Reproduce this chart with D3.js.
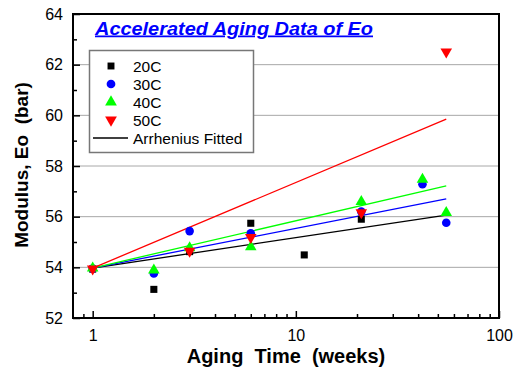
<!DOCTYPE html>
<html>
<head>
<meta charset="utf-8">
<script src="https://cdn.jsdelivr.net/npm/d3@7"></script>
<style>
body { margin: 0; background: #fff; }
text { font-family: "Liberation Sans", Arial, sans-serif; }
</style>
</head>
<body>
<svg id="graph"></svg>
<script>
// aging data
var series = ["20C", "30C", "40C", "50C"];
var colors = ["#000000", "#0000ff", "#00ff00", "#ff0000"];
var shapes = ["square", "circle", "triangleUp", "triangleDown"];

var time20 = [1, 2, 3, 6, 11, 21];
var mod20 = [53.93, 53.13, 54.62, 55.74, 54.49, 55.90];
var time30 = [1, 2, 3, 6, 21, 42, 55];
var mod30 = [53.95, 53.76, 55.43, 55.34, 56.20, 57.28, 55.76];
var time40 = [1, 2, 3, 6, 21, 42, 55];
var mod40 = [53.97, 53.89, 54.77, 54.81, 56.59, 57.47, 56.16];
var time50 = [1, 3, 6, 21, 55];
var mod50 = [53.94, 54.64, 55.18, 56.16, 62.51];

// Arrhenius fitted lines, value at start and end time
var fitTimes = [1, 55];
var fitStart = [53.97, 53.97, 53.97, 53.97];
var fitEnd = [56.06, 56.70, 57.22, 59.85];

var yTicks = [52, 54, 56, 58, 60, 62, 64];
var yMinor = [53, 55, 57, 59, 61, 63];
var xTicks = [1, 10, 100];
var xMinor = [0.9, 2, 3, 4, 5, 6, 7, 8, 9, 20, 30, 40, 50, 60, 70, 80, 90];

var allTimes = [time20, time30, time40, time50];
var allMods = [mod20, mod30, mod40, mod50];

var screen = {width: 527, height: 375};
var margins = {top: 14, bottom: 57, left: 73, right: 28};
var graph = {
    width: screen.width - margins.left - margins.right,
    height: screen.height - margins.top - margins.bottom
};

var svg = d3.select("#graph")
    .attr("width", screen.width)
    .attr("height", screen.height);

var xScale = d3.scaleLog()
    .domain([0.8, 100])
    .range([0, graph.width]);
var yScale = d3.scaleLinear()
    .domain([52, 64])
    .range([graph.height, 0]);

var g = svg.append("g")
    .classed("graph", true)
    .attr("transform", "translate(" + margins.left + "," + margins.top + ")");

// grid
g.selectAll("line.grid")
    .data(yTicks.slice(1, -1))
    .enter()
    .append("line")
    .attr("x1", 0)
    .attr("x2", graph.width)
    .attr("y1", function(d) { return yScale(d); })
    .attr("y2", function(d) { return yScale(d); })
    .attr("stroke", "#a8a8a8")
    .attr("stroke-width", 1);

// axes, ticks pointing inward
var drawAxes = function()
{
    var xAxis = d3.axisBottom(xScale).tickValues(xTicks).tickSize(-7)
        .tickFormat(d3.format("d")).tickPadding(12);
    var xAxisMinor = d3.axisBottom(xScale).tickValues(xMinor).tickSize(-4).tickFormat("");
    var yAxis = d3.axisLeft(yScale).tickValues(yTicks).tickSize(-7).tickPadding(10);
    var yAxisMinor = d3.axisLeft(yScale).tickValues(yMinor).tickSize(-4).tickFormat("");

    var bottom = g.append("g").attr("transform", "translate(0," + graph.height + ")");
    bottom.call(xAxis);
    bottom.append("g").call(xAxisMinor);
    var left = g.append("g");
    left.call(yAxis);
    left.append("g").call(yAxisMinor);

    g.selectAll(".domain").remove();
    g.selectAll(".tick line").attr("stroke", "#000").attr("stroke-width", 1.5);
    g.selectAll(".tick text")
        .attr("font-size", 16)
        .attr("font-family", "Liberation Sans, Arial, sans-serif")
        .attr("fill", "#000");

    g.append("rect")
        .attr("width", graph.width)
        .attr("height", graph.height)
        .attr("fill", "none")
        .attr("stroke", "#000")
        .attr("stroke-width", 2);
};
drawAxes();

// fitted lines
var fitLine = d3.line()
    .x(function(d) { return xScale(d[0]); })
    .y(function(d) { return yScale(d[1]); });

series.forEach(function(s, i) {
    g.append("path")
        .datum([[fitTimes[0], fitStart[i]], [fitTimes[1], fitEnd[i]]])
        .attr("d", fitLine)
        .attr("fill", "none")
        .attr("stroke", colors[i])
        .attr("stroke-width", 1.3);
});

var symbolFor = function(shape, size)
{
    if (shape == "square") return d3.symbol(d3.symbolSquare, size)();
    if (shape == "circle") return d3.symbol(d3.symbolCircle, size)();
    return d3.symbol(d3.symbolTriangle, size)();
};

var drawPoints = function(i)
{
    var pts = allTimes[i].map(function(t, k) { return {t: t, v: allMods[i][k]}; });
    g.append("g")
        .selectAll("path")
        .data(pts)
        .enter()
        .append("path")
        .attr("d", symbolFor(shapes[i], shapes[i] == "square" ? 50 : 58))
        .attr("transform", function(d) {
            var rot = shapes[i] == "triangleDown" ? " rotate(180)" : "";
            return "translate(" + xScale(d.t) + "," + yScale(d.v) + ")" + rot;
        })
        .attr("fill", colors[i]);
};
series.forEach(function(s, i) { drawPoints(i); });

// title
svg.append("text")
    .attr("x", 95)
    .attr("y", 34.5)
    .attr("font-size", 17.5)
    .attr("font-weight", "bold")
    .attr("font-style", "italic")
    .attr("text-decoration", "underline")
    .attr("textLength", 278)
    .attr("lengthAdjust", "spacingAndGlyphs")
    .attr("fill", "#0000ff")
    .text("Accelerated Aging Data of Eo");

// legend
var legend = svg.append("g");
legend.append("rect")
    .attr("x", 89.5)
    .attr("y", 50.5)
    .attr("width", 164)
    .attr("height", 102)
    .attr("fill", "#fff")
    .attr("stroke", "#777")
    .attr("stroke-width", 1.5);

var rowY = function(k) { return 66 + k * 18; };
series.forEach(function(s, i) {
    legend.append("path")
        .attr("d", symbolFor(shapes[i], shapes[i] == "square" ? 48 : 60))
        .attr("transform", "translate(111," + rowY(i) + ")" +
              (shapes[i] == "triangleDown" ? " rotate(180)" : ""))
        .attr("fill", colors[i]);
    legend.append("text")
        .attr("x", 133)
        .attr("y", rowY(i) + 5.5)
        .attr("font-size", 15.5)
        .text(s);
});
legend.append("line")
    .attr("x1", 93)
    .attr("x2", 128)
    .attr("y1", rowY(4))
    .attr("y2", rowY(4))
    .attr("stroke", "#000")
    .attr("stroke-width", 1.3);
legend.append("text")
    .attr("x", 133)
    .attr("y", rowY(4) + 5.5)
    .attr("font-size", 15.5)
    .text("Arrhenius Fitted");

// axis titles
svg.append("text")
    .attr("x", 286)
    .attr("y", 363)
    .attr("text-anchor", "middle")
    .attr("font-size", 20)
    .attr("font-weight", "bold")
    .attr("xml:space", "preserve")
    .text("Aging  Time  (weeks)");

svg.append("text")
    .attr("transform", "translate(28,165) rotate(-90)")
    .attr("text-anchor", "middle")
    .attr("font-size", 19)
    .attr("font-weight", "bold")
    .attr("xml:space", "preserve")
    .text("Modulus, Eo  (bar)");
</script>
</body>
</html>
